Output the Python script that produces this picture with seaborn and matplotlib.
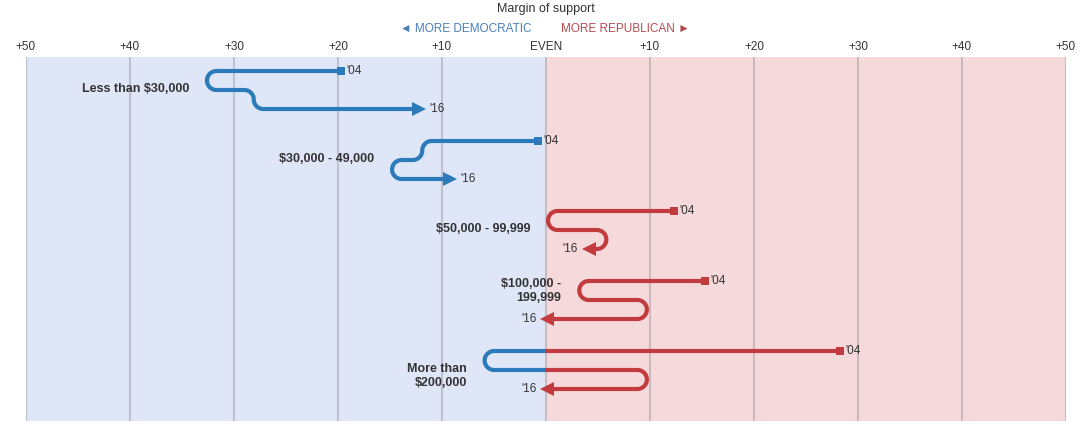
import numpy as np
import pandas as pd
import matplotlib
matplotlib.use("Agg")
import matplotlib.pyplot as plt
from matplotlib.patches import Rectangle
import seaborn as sns

# margin of support, negative = more Democratic, positive = more Republican
GROUPS = ["Less than $30,000", "$30,000 - 49,000", "$50,000 - 99,999",
          "$100,000 -\n199,999", "More than\n$200,000"]
MARGIN_04 = [-19.7, -0.8, 12.3, 15.3, 28.3]
MARGIN_08 = [-32.6, -11.9, 0.2, 3.2, -5.9]
MARGIN_12 = [-28.1, -14.8, 5.8, 9.7, 9.7]
MARGIN_16 = [-11.6, -8.6, 3.5, -0.5, -0.5]

XTICKS = [-50, -40, -30, -20, -10, 0, 10, 20, 30, 40, 50]
XTICK_LABELS = ["+50", "+40", "+30", "+20", "+10", "EVEN",
                "+10", "+20", "+30", "+40", "+50"]

BLUE = "#2b7bba"
RED = "#c23b3e"
TEXT = "#333333"

# layout
ROW_GAP = 19 / 70          # vertical step between rows, in group units
LABEL_ROW = [0.95, 0.95, 0.95, 0.53, 1.3]

sns.set_style("white")
plt.rcParams["font.family"] = ["Liberation Sans", "DejaVu Sans"]

fig = plt.figure(figsize=(10.85, 4.38), dpi=100)
ax = fig.add_axes([26 / 1085, 17 / 438, 1040 / 1085, 364 / 438])
ax.set_xlim(-50, 50)
ax.set_ylim(5.0, -0.2)

ax.axvspan(-50, 0, color="#dfe6f8", zorder=0, lw=0)
ax.axvspan(0, 50, color="#f6d9da", zorder=0, lw=0)
for xt in XTICKS:
    ax.axvline(xt, color="#8a8a96", alpha=0.4, lw=1.5, zorder=1)

for s in ax.spines.values():
    s.set_visible(False)
ax.set_yticks([])
ax.xaxis.tick_top()
ax.set_xticks(XTICKS)
ax.set_xticklabels(XTICK_LABELS)
ax.tick_params(axis="x", length=0, pad=3, labelsize=8.5, labelcolor=TEXT)

# pixel scale of the data axes, used to keep the turns round
p0 = ax.transData.transform((0, 0))
p1 = ax.transData.transform((1, 1))
sx, sy = abs(p1[0] - p0[0]), abs(p1[1] - p0[1])
R = ROW_GAP * sy / 2
rx, ry = R / sx, R / sy
head_ms = 9.5
head_len = head_ms * fig.dpi / 72 / sx

neg_clip = Rectangle((-60, -10), 60, 30, transform=ax.transData)
pos_clip = Rectangle((0, -10), 60, 30, transform=ax.transData)


def build_path(vals, y0):
    xs, ys = [vals[0]], [y0]
    for i in (1, 2):
        yt = y0 + (i - 1) * ROW_GAP
        d_in = np.sign(vals[i] - vals[i - 1])
        d_out = np.sign(vals[i + 1] - vals[i])
        cx = vals[i] - d_in * rx
        if d_in != d_out:
            # u-turn with its outer edge on the turning value
            th = np.linspace(-np.pi / 2, np.pi / 2, 40)
            xs += list(cx + d_in * rx * np.cos(th))
            ys += list(yt + ry + ry * np.sin(th))
        else:
            # step down, centred on the value
            th = np.linspace(-np.pi / 2, 0, 20)
            xs += list(cx + d_in * rx * np.cos(th))
            ys += list(yt + ry + ry * np.sin(th))
            ph = np.linspace(0, np.pi / 2, 20)
            cx2 = vals[i] + d_in * rx
            xs += list(cx2 - d_in * rx * np.cos(ph))
            ys += list(yt + ry + ry * np.sin(ph))
    d_last = np.sign(vals[3] - vals[2])
    xs.append(vals[3] - d_last * head_len * 0.9)
    ys.append(y0 + 2 * ROW_GAP)
    return np.array(xs), np.array(ys), d_last


for g, name in enumerate(GROUPS):
    vals = [MARGIN_04[g], MARGIN_08[g], MARGIN_12[g], MARGIN_16[g]]
    y0 = float(g)
    xs, ys, d_last = build_path(vals, y0)
    df = pd.DataFrame({"x": xs, "y": ys})
    for color, clip in ((BLUE, neg_clip), (RED, pos_clip)):
        sns.lineplot(data=df, x="x", y="y", sort=False, estimator=None,
                     color=color, lw=3, ax=ax, zorder=3)
        ax.lines[-1].set_clip_path(clip)
        ax.lines[-1].set_solid_capstyle("butt")

    # '04 start square
    c04 = BLUE if vals[0] < 0 else RED
    ax.plot(vals[0], y0, marker="s", ms=5.5, color=c04, mew=0, zorder=4)
    ax.text(vals[0] + 0.5, y0, "'04", ha="left", va="center",
            fontsize=8.5, color=TEXT)

    # '16 arrow head
    y2 = y0 + 2 * ROW_GAP
    base = vals[3] - d_last * head_len
    c16 = BLUE if base < 0 else RED
    ax.plot(vals[3] - d_last * head_len / 2, y2,
            marker=">" if d_last > 0 else "<", ms=head_ms,
            color=c16, mew=0, zorder=4)
    if d_last > 0:
        ax.text(vals[3] + 0.4, y2, "'16", ha="left", va="center",
                fontsize=8.5, color=TEXT)
    else:
        ax.text(vals[3] - 0.4, y2, "'16", ha="right", va="center",
                fontsize=8.5, color=TEXT)

    # group label
    lx = min(vals[:3]) - rx - 0.8
    ax.text(lx, y0 + LABEL_ROW[g] * ROW_GAP, name, ha="right", va="center",
            fontsize=9, fontweight="bold", color=TEXT, linespacing=1.25)

ax.set_xlabel("")
ax.set_ylabel("")

fig.text(546 / 1085, 1 - 9 / 438, "Margin of support", ha="center",
         va="center", fontsize=9, color=TEXT)
fig.text(531 / 1085, 1 - 29 / 438, "◄ MORE DEMOCRATIC", ha="right",
         va="center", fontsize=8.5, color="#4a80b8")
fig.text(561 / 1085, 1 - 29 / 438, "MORE REPUBLICAN ►", ha="left",
         va="center", fontsize=8.5, color="#b84a4e")

fig.savefig("out.png", dpi=100)
